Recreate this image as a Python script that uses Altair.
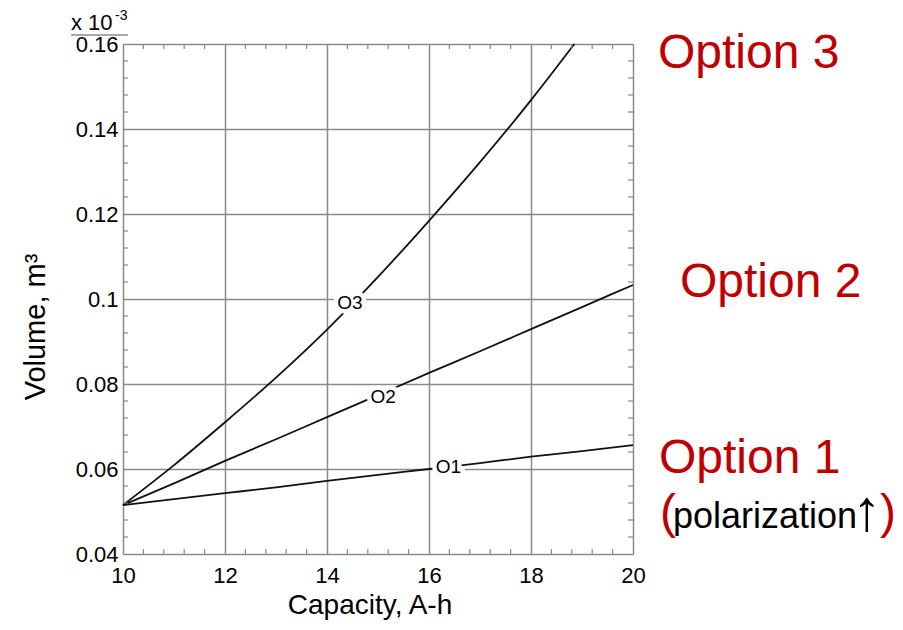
import altair as alt
import pandas as pd

# ---- data ----
cap = [10, 11, 12, 13, 14, 15, 16, 17, 18, 19, 20]
o1 = [0.0515, 0.0529, 0.0543, 0.0557, 0.0572, 0.0586, 0.0600, 0.0614, 0.0629, 0.0642, 0.0656]
o2 = [0.0515, 0.0566, 0.0619, 0.0670, 0.0722, 0.0774, 0.0826, 0.0877, 0.0929, 0.0981, 0.1033]
cap3 = [10, 11, 12, 13, 14, 15, 16, 17, 18, 18.85]
o3 = [0.0515, 0.0609, 0.0710, 0.0815, 0.0928, 0.1052, 0.1184, 0.1322, 0.1468, 0.1600]

curve_labels = ["O1", "O2", "O3"]
label_x = [16.38, 15.10, 14.45]
label_y = [0.0605, 0.0770, 0.0990]

x_major = [10, 12, 14, 16, 18, 20]
y_major = [0.04, 0.06, 0.08, 0.10, 0.12, 0.14, 0.16]
x_minor = [10.4, 10.8, 11.2, 11.6, 12.4, 12.8, 13.2, 13.6, 14.4, 14.8, 15.2, 15.6,
           16.4, 16.8, 17.2, 17.6, 18.4, 18.8, 19.2, 19.6]
y_minor = [0.044, 0.048, 0.052, 0.056, 0.064, 0.068, 0.072, 0.076, 0.084, 0.088, 0.092, 0.096,
           0.104, 0.108, 0.112, 0.116, 0.124, 0.128, 0.132, 0.136, 0.144, 0.148, 0.152, 0.156]

FONT = "Liberation Sans"
RED = "#c00000"
GRID = "#8a8a8a"
W = H = 510

lines_df = pd.DataFrame(
    [{"cap": c, "vol": v, "s": "O1"} for c, v in zip(cap, o1)]
    + [{"cap": c, "vol": v, "s": "O2"} for c, v in zip(cap, o2)]
    + [{"cap": c, "vol": v, "s": "O3"} for c, v in zip(cap3, o3)]
)
lab_df = pd.DataFrame({"t": curve_labels, "cap": label_x, "vol": label_y})
xmin_df = pd.DataFrame({"v": x_minor})
ymin_df = pd.DataFrame({"v": y_minor})

xscale = alt.Scale(domain=[10, 20], nice=False, zero=False)
yscale = alt.Scale(domain=[0.04, 0.16], nice=False, zero=False)

xaxis = alt.Axis(values=x_major, grid=True, gridColor=GRID, gridWidth=1.5, gridOpacity=1,
                 tickSize=0, domain=False, labelFont=FONT, labelFontSize=22, labelColor="#000",
                 labelPadding=11, labelFlush=False, title=None, format="d")
yaxis = alt.Axis(values=y_major, grid=True, gridColor=GRID, gridWidth=1.5, gridOpacity=1,
                 tickSize=0, domain=False, labelFont=FONT, labelFontSize=22, labelColor="#000",
                 labelPadding=5, title=None, format=".2~f")

lines = alt.Chart(lines_df).mark_line(color="#111", strokeWidth=1.8, interpolate="monotone").encode(
    x=alt.X("cap:Q", scale=xscale, axis=xaxis),
    y=alt.Y("vol:Q", scale=yscale, axis=yaxis),
    detail="s:N",
)

halo = alt.Chart(lab_df).mark_text(font=FONT, fontSize=19, color="white", stroke="white",
                                   strokeWidth=9).encode(
    x=alt.X("cap:Q", scale=xscale), y=alt.Y("vol:Q", scale=yscale), text="t:N")
labs = alt.Chart(lab_df).mark_text(font=FONT, fontSize=19, color="#000").encode(
    x=alt.X("cap:Q", scale=xscale), y=alt.Y("vol:Q", scale=yscale), text="t:N")

tick_style = dict(color=GRID, strokeWidth=1.2)
t_bottom = alt.Chart(xmin_df).mark_rule(**tick_style).encode(
    x=alt.X("v:Q", scale=xscale), y=alt.value(H), y2=alt.value(H - 5))
t_top = alt.Chart(xmin_df).mark_rule(**tick_style).encode(
    x=alt.X("v:Q", scale=xscale), y=alt.value(0), y2=alt.value(5))
t_left = alt.Chart(ymin_df).mark_rule(**tick_style).encode(
    y=alt.Y("v:Q", scale=yscale), x=alt.value(0), x2=alt.value(5))
t_right = alt.Chart(ymin_df).mark_rule(**tick_style).encode(
    y=alt.Y("v:Q", scale=yscale), x=alt.value(W), x2=alt.value(W - 5))


def txt(s, x, y, size, color="#000", align="left", angle=0, baseline="alphabetic"):
    kw = dict(font=FONT, fontSize=size, color=color, align=align, baseline=baseline)
    if angle:
        kw["angle"] = angle
    return alt.Chart(pd.DataFrame({"t": [s]})).mark_text(**kw).encode(
        text="t:N", x=alt.value(x), y=alt.value(y))


annots = [
    txt("Option 3", 535, 24, 48, RED),
    txt("Option 2", 557, 253, 48, RED),
    txt("Option 1", 536, 429, 48, RED),
    txt("(", 537, 484, 48, RED),
    txt("polarization", 550, 484, 36, "#000"),
    txt("\u2191", 744, 486, 58, "#000", align="center"),
    txt(")", 757, 484, 48, RED),
    txt("Capacity, A-h", 247, 570, 28, "#000", align="center"),
    txt("Volume, m\u00b3", -78, 283, 29, "#000", align="center", angle=270),
    txt("x 10", -52, -14, 22, "#000"),
    txt("-3", -8, -24, 14, "#000"),
]
uline = alt.Chart(pd.DataFrame({"a": [0]})).mark_rule(color="#555", strokeWidth=1.2).encode(
    x=alt.value(-52), x2=alt.value(5), y=alt.value(-9))

chart = alt.layer(
    lines, t_bottom, t_top, t_left, t_right, halo, labs, uline, *annots
).properties(
    width=W, height=H,
    padding={"left": 115, "top": 36, "right": 262, "bottom": 68},
    autosize="none",
).configure_view(stroke=GRID, strokeWidth=1.5).configure(background="white")

chart.save("out.html", embed_options={"renderer": "svg", "actions": False})
